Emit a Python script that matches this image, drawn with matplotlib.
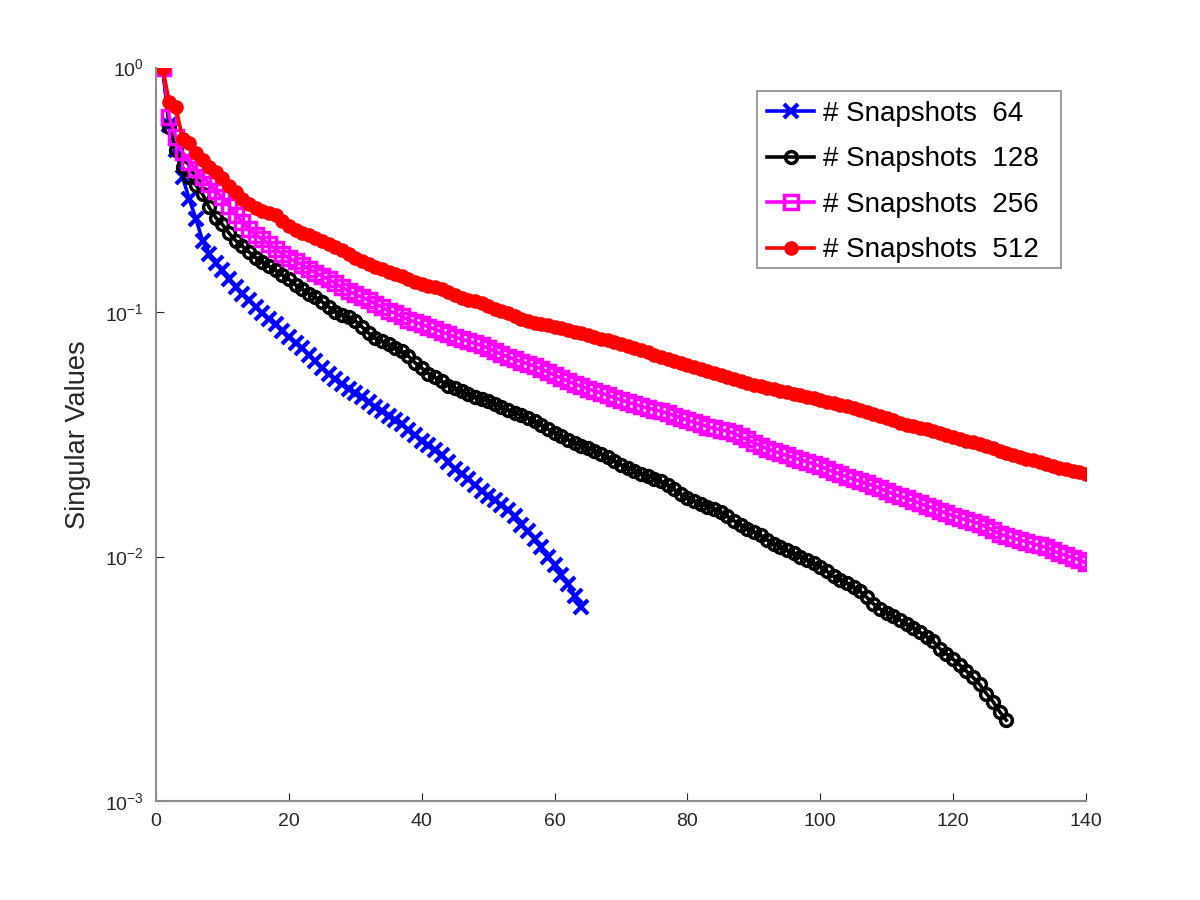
import numpy as np
import matplotlib
matplotlib.use("Agg")
import matplotlib.pyplot as plt
from matplotlib.patches import Rectangle

plt.rcParams['font.family'] = ['Liberation Sans', 'DejaVu Sans']
plt.rcParams['mathtext.fontset'] = 'custom'
plt.rcParams['mathtext.rm'] = 'Liberation Sans'
plt.rcParams['mathtext.default'] = 'regular'
plt.rcParams['axes.unicode_minus'] = False

# singular values, one per mode index
sv_64 = [1.0, 0.58, 0.46, 0.356, 0.290, 0.241, 0.196, 0.173, 0.159, 0.148,
         0.137, 0.127, 0.119, 0.112, 0.105, 0.099, 0.094, 0.089, 0.084, 0.079,
         0.075, 0.071, 0.067, 0.063, 0.059, 0.056, 0.0530, 0.0507, 0.0485, 0.0465,
         0.0448, 0.0428, 0.0410, 0.0392, 0.0377, 0.0362, 0.0347, 0.0330, 0.0313, 0.0297,
         0.0285, 0.0272, 0.0259, 0.0244, 0.0229, 0.0218, 0.0208, 0.0197, 0.0186, 0.0177,
         0.0170, 0.0163, 0.0155, 0.0146, 0.0135, 0.0127, 0.0118, 0.0109, 0.0100, 0.0092,
         0.0084, 0.0077, 0.0069, 0.0062]

sv_128 = [1.0, 0.57, 0.46, 0.39, 0.355, 0.330, 0.304, 0.268, 0.243, 0.228,
          0.210, 0.196, 0.186, 0.176, 0.167, 0.160, 0.154, 0.148, 0.142, 0.136,
          0.129, 0.124, 0.119, 0.115, 0.110, 0.105, 0.100, 0.097, 0.095, 0.092,
          0.087, 0.082, 0.078, 0.076, 0.074, 0.071, 0.069, 0.066, 0.062, 0.059,
          0.056, 0.054, 0.052, 0.050, 0.0488, 0.0474, 0.0460, 0.0450, 0.0442, 0.0433,
          0.0420, 0.0408, 0.0398, 0.0388, 0.0378, 0.0369, 0.0357, 0.0345, 0.0332, 0.0320,
          0.0310, 0.0300, 0.0291, 0.0284, 0.0277, 0.0271, 0.0263, 0.0255, 0.0246, 0.0237,
          0.0230, 0.0224, 0.0218, 0.0213, 0.0208, 0.0203, 0.0196, 0.0188, 0.0180, 0.0174,
          0.0169, 0.0164, 0.0160, 0.0157, 0.0152, 0.0146, 0.0140, 0.0135, 0.0130, 0.0126,
          0.0122, 0.0117, 0.0113, 0.0109, 0.0106, 0.0103, 0.0100, 0.0097, 0.0094, 0.0091,
          0.0087, 0.0083, 0.0080, 0.0078, 0.0075, 0.0072, 0.0068, 0.0064, 0.0061, 0.0059,
          0.0057, 0.0055, 0.0053, 0.0051, 0.0049, 0.0047, 0.0045, 0.0042, 0.0040, 0.0038,
          0.0036, 0.0034, 0.0032, 0.0030, 0.00275, 0.00255, 0.00232, 0.00214]

sv_256 = [1.0, 0.626, 0.519, 0.450, 0.410, 0.385, 0.356, 0.335, 0.312, 0.294,
          0.272, 0.250, 0.233, 0.219, 0.207, 0.198, 0.190, 0.181, 0.173, 0.166,
          0.161, 0.156, 0.150, 0.145, 0.140, 0.136, 0.131, 0.126, 0.122, 0.118,
          0.115, 0.112, 0.108, 0.105, 0.101, 0.099, 0.096, 0.093, 0.091, 0.089,
          0.087, 0.085, 0.083, 0.081, 0.079, 0.0775, 0.0760, 0.0745, 0.0730, 0.0712,
          0.0692, 0.0672, 0.0655, 0.0640, 0.0626, 0.0614, 0.0600, 0.0585, 0.0568, 0.0552,
          0.0537, 0.0522, 0.0509, 0.0497, 0.0486, 0.0476, 0.0466, 0.0456, 0.0446, 0.0437,
          0.0428, 0.0420, 0.0412, 0.0405, 0.0399, 0.0393, 0.0385, 0.0377, 0.0369, 0.0361,
          0.0354, 0.0347, 0.0340, 0.0334, 0.0330, 0.0326, 0.0319, 0.0310, 0.0301, 0.0292,
          0.0284, 0.0276, 0.0270, 0.0264, 0.0259, 0.0254, 0.0249, 0.0244, 0.0239, 0.0234,
          0.0228, 0.0222, 0.0217, 0.0212, 0.0207, 0.0203, 0.0199, 0.0195, 0.0190, 0.0185,
          0.0180, 0.0176, 0.0173, 0.0169, 0.0165, 0.0161, 0.0158, 0.0154, 0.0150, 0.0147,
          0.0144, 0.0141, 0.0139, 0.0136, 0.0132, 0.0128, 0.0124, 0.0121, 0.0119, 0.0117,
          0.0115, 0.0113, 0.0111, 0.0109, 0.0106, 0.0103, 0.0101, 0.0099, 0.0097, 0.0094]

sv_512 = [1.0, 0.72, 0.69, 0.51, 0.49, 0.445, 0.418, 0.392, 0.375, 0.352,
          0.328, 0.310, 0.290, 0.276, 0.267, 0.260, 0.255, 0.249, 0.236, 0.225,
          0.217, 0.211, 0.206, 0.201, 0.196, 0.190, 0.185, 0.179, 0.173, 0.167,
          0.162, 0.157, 0.153, 0.150, 0.146, 0.143, 0.140, 0.136, 0.133, 0.130,
          0.128, 0.126, 0.124, 0.121, 0.117, 0.114, 0.112, 0.111, 0.109, 0.106,
          0.103, 0.101, 0.099, 0.096, 0.094, 0.092, 0.0905, 0.0895, 0.0885, 0.0872,
          0.0858, 0.0843, 0.0830, 0.0818, 0.0805, 0.0790, 0.0778, 0.0765, 0.0752, 0.0740,
          0.0725, 0.0711, 0.0697, 0.0684, 0.0670, 0.0655, 0.0644, 0.0632, 0.0620, 0.0609,
          0.0598, 0.0587, 0.0576, 0.0565, 0.0552, 0.0540, 0.0530, 0.0521, 0.0513, 0.0505,
          0.0497, 0.0490, 0.0484, 0.0477, 0.0470, 0.0463, 0.0457, 0.0450, 0.0443, 0.0437,
          0.0430, 0.0424, 0.0418, 0.0412, 0.0405, 0.0398, 0.0391, 0.0384, 0.0377, 0.0369,
          0.0360, 0.0352, 0.0346, 0.0341, 0.0336, 0.0331, 0.0325, 0.0319, 0.0313, 0.0307,
          0.0302, 0.0298, 0.0294, 0.0289, 0.0283, 0.0277, 0.0271, 0.0265, 0.0260, 0.0255,
          0.0251, 0.0247, 0.0243, 0.0239, 0.0235, 0.0231, 0.0228, 0.0224, 0.0221, 0.0218]

labels = ['# Snapshots  64', '# Snapshots  128', '# Snapshots  256', '# Snapshots  512']
xticks = [0, 20, 40, 60, 80, 100, 120, 140]

fig = plt.figure(figsize=(12, 9), dpi=100)
ax = fig.add_axes([0.13, 0.11, 0.775, 0.815])

lw = 2.6
ax.semilogy(np.arange(1, len(sv_64) + 1), sv_64, color='blue', lw=lw,
            marker='x', ms=9.5, mew=3, label=labels[0])
ax.semilogy(np.arange(1, len(sv_128) + 1), sv_128, color='black', lw=lw,
            marker='o', ms=8.5, mew=2.5, mfc='none', label=labels[1])
ax.semilogy(np.arange(1, len(sv_256) + 1), sv_256, color='magenta', lw=lw,
            marker='s', ms=9.5, mew=2.5, mfc='none', label=labels[2])
ax.semilogy(np.arange(1, len(sv_512) + 1), sv_512, color='red', lw=lw,
            marker='o', ms=9.5, mew=1, label=labels[3])

ax.set_xlim(0, 140)
ax.set_ylim(1e-3, 1)
ax.set_xticks(xticks)
ax.set_yticks([1e-3, 1e-2, 1e-1, 1e0])
ax.minorticks_off()
ax.spines['top'].set_visible(False)
ax.spines['right'].set_visible(False)
for s in ['left', 'bottom']:
    ax.spines[s].set_color('#8c8c8c')
    ax.spines[s].set_linewidth(1.5)
ax.tick_params(direction='in', length=6, width=0.8, color='#262626',
               labelsize=14, labelcolor='#262626', pad=9)
ax.set_ylabel('Singular Values', fontsize=19.5, color='#262626')
ax.yaxis.set_label_coords(-0.07, 0.5)

# legend box drawn separately so its padding matches the MATLAB look
box = Rectangle((0.631, 0.702), 0.2533, 0.197, transform=fig.transFigure,
                facecolor='white', edgecolor='#8c8c8c', lw=1.2, zorder=5, clip_on=False)
ax.add_patch(box)
leg = ax.legend(loc='upper left', bbox_to_anchor=(0.631, 0.899),
                bbox_transform=fig.transFigure, borderaxespad=0,
                fontsize=20, frameon=False,
                handlelength=1.7, handletextpad=0.3, labelspacing=0.7,
                borderpad=0.36)
leg.set_zorder(6)

fig.savefig('out.png', dpi=100)
